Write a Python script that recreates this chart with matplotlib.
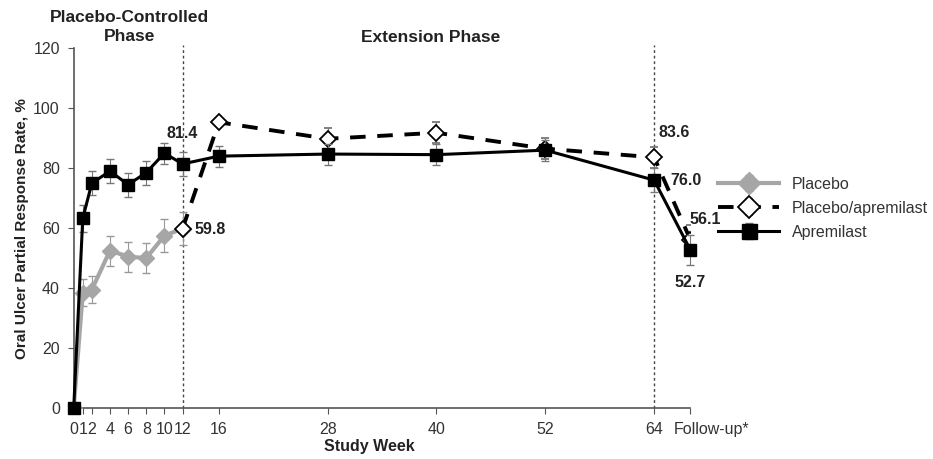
import matplotlib
matplotlib.use('Agg')
import matplotlib.pyplot as plt
from matplotlib.transforms import ScaledTranslation

plt.rcParams['font.family'] = ['Liberation Sans', 'DejaVu Sans']

# weeks (follow-up is placed at week 68)
weeks = [0, 1, 2, 4, 6, 8, 10, 12, 16, 28, 40, 52, 64, 68]
tick_pos = [0, 1, 2, 4, 6, 8, 10, 12, 16, 28, 40, 52, 64, 68]
tick_labels = ['0', '1', '2', '4', '6', '8', '10', '12', '16', '28', '40', '52', '64', 'Follow-up*']

apremilast = [0, 63.3, 75.0, 79.0, 74.5, 78.5, 85.0, 81.4, 84.0, 84.7, 84.5, 86.0, 76.0, 52.7]
apremilast_err = [0, 4.5, 4.0, 4.0, 4.0, 4.0, 3.5, 4.0, 3.5, 3.5, 3.5, 3.5, 4.0, 5.0]

placebo_weeks = [0, 1, 2, 4, 6, 8, 10, 12]
placebo = [0, 38.5, 39.5, 52.5, 50.5, 50.0, 57.5, 59.8]
placebo_err = [0, 4.5, 4.5, 5.0, 5.0, 5.0, 5.5, 5.5]

pa_weeks = [12, 16, 28, 40, 52, 64, 68]
placebo_apremilast = [59.8, 95.3, 89.8, 91.8, 86.5, 83.6, 56.1]
pa_err = [0, 0, 3.5, 3.5, 3.5, 3.5, 5.0]

fig = plt.figure(figsize=(9.33, 4.59), dpi=100)
ax = fig.add_axes([0.079, 0.111, 0.661, 0.784])

grey = '#a6a6a6'
ax.axvline(12, color='#444444', ls=(0, (2, 2)), lw=1, ymax=1.01, clip_on=False)
ax.axvline(64, color='#444444', ls=(0, (2, 2)), lw=1, ymax=1.01, clip_on=False)

ax.errorbar(placebo_weeks, placebo, yerr=placebo_err, color=grey, lw=3,
            marker='D', ms=8, mfc=grey, mec=grey, ecolor='#999999',
            elinewidth=0.8, capsize=3, label='Placebo', zorder=3)
ax.errorbar(pa_weeks, placebo_apremilast, yerr=pa_err, color='black', lw=2.8,
            ls=(0, (4, 3)), marker='D', ms=8.5, mfc='white', mec='black',
            mew=1.3, ecolor='#777777', elinewidth=0.8, capsize=3,
            label='Placebo/apremilast', zorder=4)
ax.errorbar(weeks, apremilast, yerr=apremilast_err, color='black', lw=2.2,
            marker='s', ms=8, mfc='black', mec='black', ecolor='#777777',
            elinewidth=0.8, capsize=3, label='Apremilast', zorder=5,
            clip_on=False)

ax.set_xlim(0, 68)
ax.set_ylim(0, 120)
ax.set_xticks(tick_pos)
ax.set_xticklabels(tick_labels)
ax.set_yticks(range(0, 121, 20))
ax.tick_params(axis='x', direction='out', length=4, colors='#555555',
               labelcolor='#333333', labelsize=11.5, pad=6)
ax.tick_params(axis='y', direction='out', length=4, colors='#555555',
               labelcolor='#333333', labelsize=11.5, pad=6)
fu = ax.get_xticklabels()[-1]
fu.set_horizontalalignment('left')
fu.set_transform(fu.get_transform() + ScaledTranslation(-0.17, 0, fig.dpi_scale_trans))
for side in ['top', 'right']:
    ax.spines[side].set_visible(False)
for side in ['left', 'bottom']:
    ax.spines[side].set_color('#555555')
    ax.spines[side].set_linewidth(1.2)

ax.set_xlabel('Study Week', fontweight='bold', fontsize=11.5, color='#222222')
ax.xaxis.set_label_coords(0.48, -0.085)
ax.set_ylabel('Oral Ulcer Partial Response Rate, %', fontweight='bold',
              fontsize=11, color='#222222', labelpad=3)

bold = dict(fontweight='bold', fontsize=11.5, color='#222222')
ax.text(12, 91.7, '81.4', ha='center', va='center', **bold)
ax.text(13.3, 59.5, '59.8', ha='left', va='center', **bold)
ax.text(64.5, 92, '83.6', ha='left', va='center', **bold)
ax.text(65.8, 76.0, '76.0', ha='left', va='center', **bold)
ax.text(67.9, 63, '56.1', ha='left', va='center', **bold)
ax.text(68.0, 42, '52.7', ha='center', va='center', **bold)

fig.text(0.139, 0.978, 'Placebo-Controlled\nPhase', ha='center', va='top',
         multialignment='center', fontweight='bold', fontsize=12.5,
         color='#222222', linespacing=1.3)
fig.text(0.462, 0.935, 'Extension Phase', ha='center', va='top',
         fontweight='bold', fontsize=12.5, color='#222222')

leg = ax.legend(loc='center left', bbox_to_anchor=(1.035, 0.555), frameon=False,
                fontsize=11.5, handlelength=3.8, handletextpad=0.8,
                labelspacing=0.55, borderaxespad=0, markerscale=1.35)
for t in leg.get_texts():
    t.set_color('#333333')

fig.savefig('out.png', dpi=100)
